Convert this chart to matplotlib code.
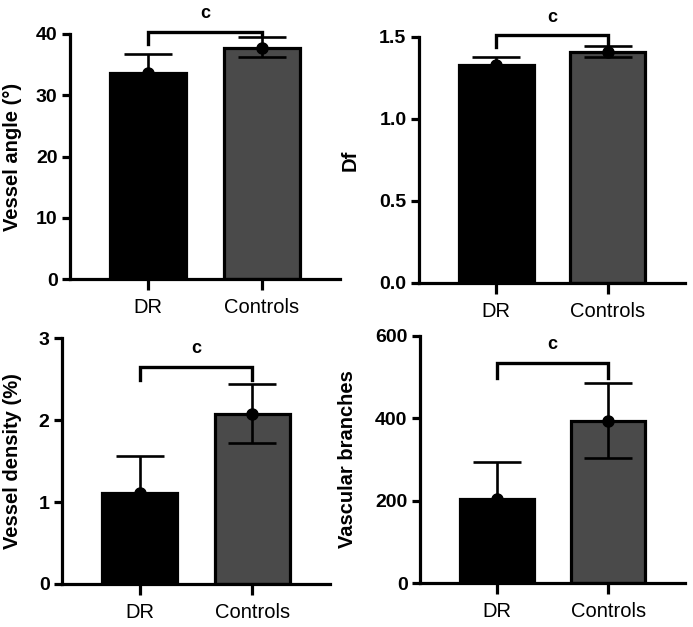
import numpy as np
import matplotlib
matplotlib.use("Agg")
import matplotlib.pyplot as plt

plt.rcParams['font.family'] = ['Liberation Sans', 'DejaVu Sans']

groups = ["DR", "Controls"]

angle_mean = [33.6, 37.7]
angle_err_up = [3.1, 1.8]
angle_err_dn = [0.0, 1.5]

df_mean = [1.33, 1.408]
df_err_up = [0.05, 0.035]
df_err_dn = [0.0, 0.027]

density_mean = [1.11, 2.07]
density_err_up = [0.45, 0.37]
density_err_dn = [0.0, 0.35]

branch_mean = [204, 393]
branch_err_up = [89, 93]
branch_err_dn = [0, 90]

ylabels = ["Vessel angle (°)", "Df", "Vessel density (%)", "Vascular branches"]
yticks = [[0, 10, 20, 30, 40], [0.0, 0.5, 1.0, 1.5], [0, 1, 2, 3], [0, 200, 400, 600]]
yticklabels = [["0", "10", "20", "30", "40"], ["0.0", "0.5", "1.0", "1.5"],
               ["0", "1", "2", "3"], ["0", "200", "400", "600"]]
ymax = [40, 1.5, 3, 600]
# bracket height and leg ends (DR leg, Controls leg)
brackets = [(40.3, 38.4, 39.6), (1.51, 1.44, 1.46), (2.65, 2.49, 2.49), (534, 497, 497)]

means = [angle_mean, df_mean, density_mean, branch_mean]
ups = [angle_err_up, df_err_up, density_err_up, branch_err_up]
dns = [angle_err_dn, df_err_dn, density_err_dn, branch_err_dn]

W, H = 693, 627
fig = plt.figure(figsize=(W / 100, H / 100), dpi=100)

# pixel boxes: left, right, top, bottom
boxes = [(70, 340, 34, 279), (419, 685, 37, 283), (62, 330, 338, 584), (420, 685, 336, 583)]
labelx = [22, 360, 22, 357]
colors = ["#000000", "#4a4a4a"]
x = np.arange(2)

for i in range(4):
    l, r, t, b = boxes[i]
    ax = fig.add_axes([l / W, 1 - b / H, (r - l) / W, (b - t) / H])
    ax.bar(x, means[i], width=0.67, color=colors, edgecolor="black", linewidth=2.3, zorder=2)
    for j in range(2):
        ax.errorbar(x[j], means[i][j], yerr=[[dns[i][j]], [ups[i][j]]], fmt="none",
                    ecolor="black", elinewidth=1.9, capsize=17, capthick=1.9, zorder=3)
    ax.plot(x, means[i], "o", color="black", markersize=8, zorder=4, clip_on=False)
    ax.set_xlim(-0.69, 1.69)
    ax.set_ylim(0, ymax[i])
    ax.set_yticks(yticks[i])
    ax.set_yticklabels(yticklabels[i], fontsize=14, fontweight="bold")
    ax.set_xticks(x)
    ax.set_xticklabels(groups, fontsize=14.5)
    ax.set_ylabel(ylabels[i], fontsize=14.5, fontweight="bold")
    ax.yaxis.set_label_coords((labelx[i] - l) / (r - l), 0.5)
    for s in ["top", "right"]:
        ax.spines[s].set_visible(False)
    for s in ["left", "bottom"]:
        ax.spines[s].set_linewidth(2.3)
    ax.tick_params(axis="y", length=6, width=2.3, pad=3)
    ax.tick_params(axis="x", length=8, width=2.3, pad=6)
    yb, y0, y1 = brackets[i]
    ax.plot([0, 0, 1, 1], [y0, yb, yb, y1], color="black", linewidth=2.4, clip_on=False,
            solid_joinstyle="miter")
    ax.text(0.5, yb + ymax[i] * 0.04, "c", ha="center", va="bottom", fontsize=13,
            fontweight="bold")

fig.savefig("out.png", dpi=100)
